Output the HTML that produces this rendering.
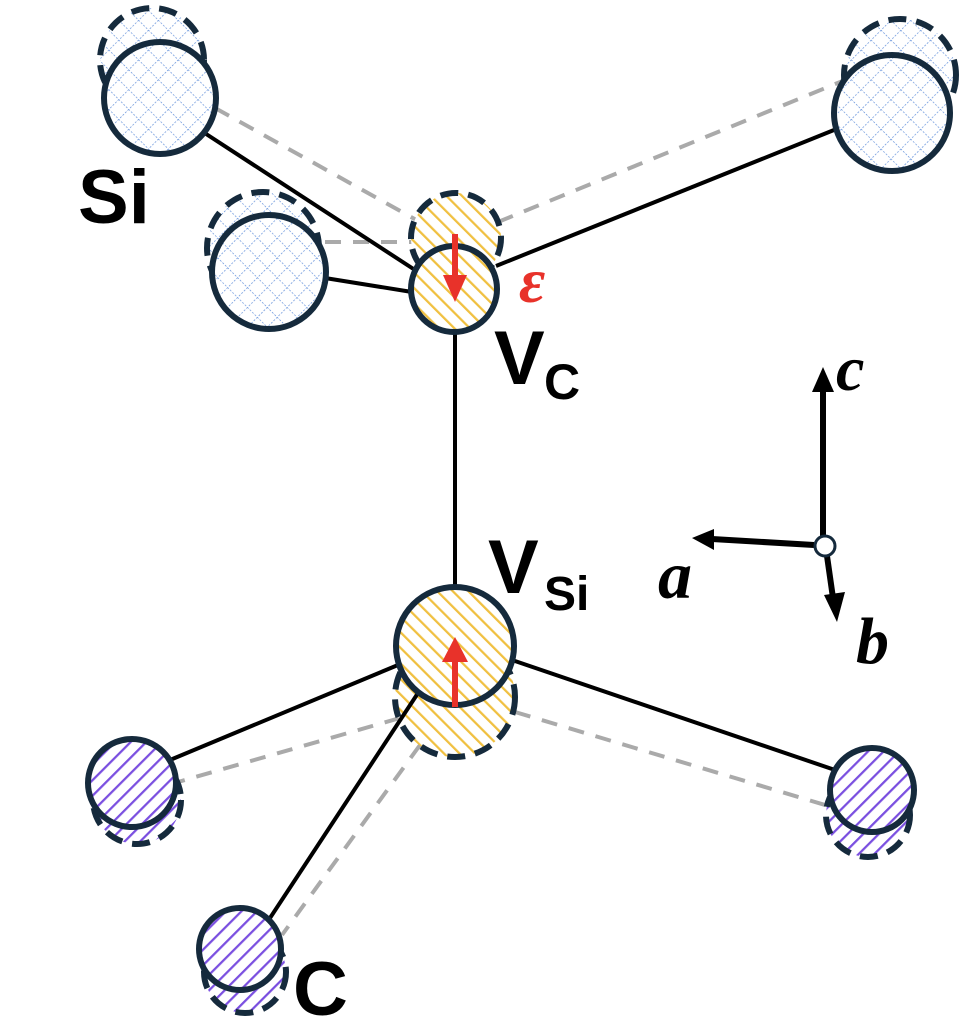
<!DOCTYPE html>
<html><head><meta charset="utf-8"><style>html,body{margin:0;padding:0;background:#fff}svg{display:block}</style></head>
<body>
<svg width="976" height="1024" viewBox="0 0 976 1024" xmlns="http://www.w3.org/2000/svg">
<defs>
<pattern id="hx" width="14" height="14" patternUnits="userSpaceOnUse" patternTransform="rotate(45)">
<rect width="14" height="14" fill="#fff"/>
<path d="M0 0V14M0 0H14" stroke="#5a8ad8" stroke-width="1.3" stroke-dasharray="2 1.5"/>
</pattern>
<pattern id="hy" width="11" height="11" patternUnits="userSpaceOnUse" patternTransform="rotate(-45)">
<rect width="11" height="11" fill="#fff"/>
<path d="M0 0V11" stroke="#f0c040" stroke-width="4.5"/>
</pattern>
<pattern id="hp" width="11" height="11" patternUnits="userSpaceOnUse" patternTransform="rotate(45)">
<rect width="11" height="11" fill="#fff"/>
<path d="M0 0V11" stroke="#7a4fe0" stroke-width="4.5"/>
</pattern>
</defs>
<g stroke="#aaa" stroke-width="4" stroke-dasharray="16 12" fill="none">
<line x1="215" y1="108" x2="420" y2="222"/>
<line x1="325" y1="242" x2="415" y2="242"/>
<line x1="498" y1="222" x2="845" y2="80"/>
<line x1="400" y1="718" x2="178" y2="782"/>
<line x1="420" y1="745" x2="282" y2="935"/>
<line x1="515" y1="712" x2="835" y2="808"/>
</g>
<g stroke="#152a3c" stroke-width="6" stroke-dasharray="18 10">
<circle cx="152" cy="60" r="52" fill="url(#hx)"/>
<circle cx="263" cy="248" r="56" fill="url(#hx)"/>
<circle cx="900" cy="75" r="56" fill="url(#hx)"/>
<circle cx="456" cy="238" r="45" fill="url(#hy)"/>
<circle cx="455" cy="697" r="60" fill="url(#hy)"/>
<circle cx="137" cy="800" r="44" fill="url(#hp)"/>
<circle cx="245" cy="972" r="41" fill="url(#hp)"/>
<circle cx="868" cy="815" r="42" fill="url(#hp)"/>
</g>
<g stroke="#000" stroke-width="4" fill="none">
<line x1="200" y1="130" x2="415" y2="270"/>
<line x1="325" y1="278" x2="412" y2="292"/>
<line x1="496" y1="266" x2="834" y2="130"/>
<line x1="455" y1="330" x2="455" y2="590"/>
<line x1="398" y1="665" x2="170" y2="760"/>
<line x1="420" y1="690" x2="270" y2="918"/>
<line x1="512" y1="660" x2="835" y2="770"/>
</g>
<g stroke="#152a3c" stroke-width="6">
<circle cx="160" cy="98" r="56" fill="url(#hx)"/>
<circle cx="269" cy="272" r="57" fill="url(#hx)"/>
<circle cx="892" cy="113" r="58" fill="url(#hx)"/>
<circle cx="454" cy="289" r="43" fill="url(#hy)"/>
<circle cx="455" cy="646" r="59" fill="url(#hy)"/>
<circle cx="132" cy="783" r="44" fill="url(#hp)"/>
<circle cx="240" cy="949" r="41" fill="url(#hp)"/>
<circle cx="872" cy="790" r="42" fill="url(#hp)"/>
</g>
<line x1="455" y1="234" x2="455" y2="280" stroke="#e8322a" stroke-width="6"/>
<polygon points="443,275 467,275 455,302" fill="#e8322a"/>
<line x1="455" y1="707" x2="455" y2="658" stroke="#e8322a" stroke-width="6"/>
<polygon points="442,662 468,662 455,637" fill="#e8322a"/>
<g stroke="#000" stroke-width="6">
<line x1="823" y1="540" x2="823" y2="388"/>
<line x1="814" y1="545" x2="712" y2="539"/>
<line x1="827" y1="556" x2="833" y2="598"/>
</g>
<polygon points="812,392 834,392 823,367" fill="#000"/>
<polygon points="714,529 714,550 692,538" fill="#000"/>
<polygon points="824,595 845,592 837,622" fill="#000"/>
<circle cx="825" cy="546" r="10" fill="#fff" stroke="#152a3c" stroke-width="3"/>
<g font-family="Liberation Serif, serif" font-style="italic" font-weight="bold" fill="#000">
<text x="836" y="390" font-size="64">c</text>
<text x="658" y="598" font-size="68">a</text>
<text x="856" y="663" font-size="66">b</text>
</g>
<text x="519" y="302" font-family="Liberation Serif, serif" font-style="italic" font-weight="bold" font-size="64" fill="#e8322a">ε</text>
<g font-family="Liberation Sans, sans-serif" font-weight="bold" fill="#000">
<text x="78" y="223" font-size="76">Si</text>
<text x="494" y="384" font-size="76">V</text>
<text x="544" y="399" font-size="50">C</text>
<text x="488" y="593" font-size="76">V</text>
<text x="544" y="610" font-size="48">Si</text>
<text x="293" y="1015" font-size="76">C</text>
</g>
</svg>
</body></html>
